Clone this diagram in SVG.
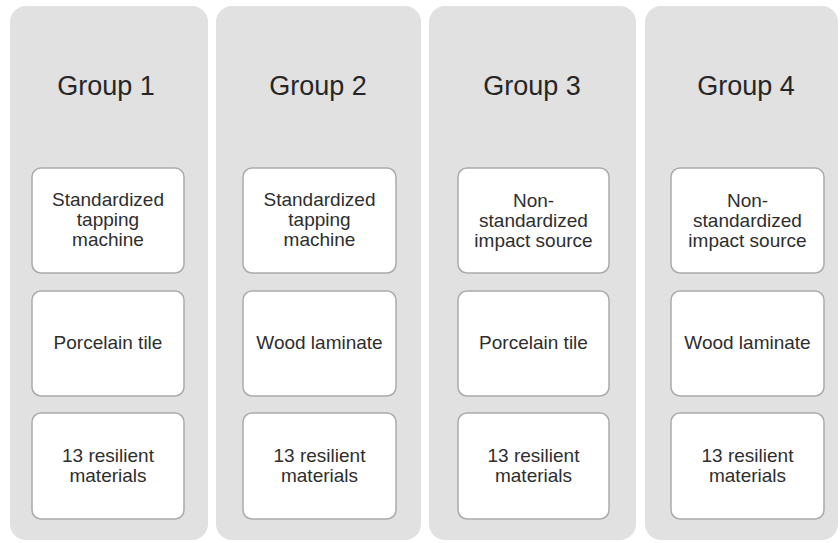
<svg xmlns="http://www.w3.org/2000/svg" width="840" height="543" viewBox="0 0 840 543">
<style>
.panel{fill:#e1e1e1;}
.box{fill:#ffffff;stroke:#ababab;stroke-width:1.5;}
.title{font-family:"Liberation Sans",Arial,sans-serif;font-size:27px;fill:#262626;text-anchor:middle;}
.lbl{font-family:"Liberation Sans",Arial,sans-serif;font-size:19px;fill:#2e2e2e;text-anchor:middle;}
</style>
<rect width="840" height="543" fill="#ffffff"/>
<g id="group1">
<rect class="panel" x="10" y="6" width="198" height="534" rx="16"/>
<text class="title" x="106" y="95">Group 1</text>
<g id="g1-source"><rect class="box" x="32" y="168" width="152" height="105" rx="9"/>
<text class="lbl" x="108" y="206">Standardized</text><text class="lbl" x="108" y="226">tapping</text><text class="lbl" x="108" y="246">machine</text></g>
<g id="g1-floor"><rect class="box" x="32" y="291" width="152" height="105" rx="9"/>
<text class="lbl" x="108" y="349">Porcelain tile</text></g>
<g id="g1-mat"><rect class="box" x="32" y="413" width="152" height="106" rx="9"/>
<text class="lbl" x="108" y="462">13 resilient</text><text class="lbl" x="108" y="482">materials</text></g>
</g>
<g id="group2">
<rect class="panel" x="216" y="6" width="205" height="534" rx="16"/>
<text class="title" x="318" y="95">Group 2</text>
<g id="g2-source"><rect class="box" x="243" y="168" width="153" height="105" rx="9"/>
<text class="lbl" x="319.5" y="206">Standardized</text><text class="lbl" x="319.5" y="226">tapping</text><text class="lbl" x="319.5" y="246">machine</text></g>
<g id="g2-floor"><rect class="box" x="243" y="291" width="153" height="105" rx="9"/>
<text class="lbl" x="319.5" y="349">Wood laminate</text></g>
<g id="g2-mat"><rect class="box" x="243" y="413" width="153" height="106" rx="9"/>
<text class="lbl" x="319.5" y="462">13 resilient</text><text class="lbl" x="319.5" y="482">materials</text></g>
</g>
<g id="group3">
<rect class="panel" x="429" y="6" width="207" height="534" rx="16"/>
<text class="title" x="532" y="95">Group 3</text>
<g id="g3-source"><rect class="box" x="458" y="168" width="151" height="105" rx="9"/>
<text class="lbl" x="533.5" y="207">Non-</text><text class="lbl" x="533.5" y="227">standardized</text><text class="lbl" x="533.5" y="247">impact source</text></g>
<g id="g3-floor"><rect class="box" x="458" y="291" width="151" height="105" rx="9"/>
<text class="lbl" x="533.5" y="349">Porcelain tile</text></g>
<g id="g3-mat"><rect class="box" x="458" y="413" width="151" height="106" rx="9"/>
<text class="lbl" x="533.5" y="462">13 resilient</text><text class="lbl" x="533.5" y="482">materials</text></g>
</g>
<g id="group4">
<rect class="panel" x="645" y="6" width="193" height="534" rx="16"/>
<text class="title" x="746" y="95">Group 4</text>
<g id="g4-source"><rect class="box" x="671" y="168" width="153" height="105" rx="9"/>
<text class="lbl" x="747.5" y="207">Non-</text><text class="lbl" x="747.5" y="227">standardized</text><text class="lbl" x="747.5" y="247">impact source</text></g>
<g id="g4-floor"><rect class="box" x="671" y="291" width="153" height="105" rx="9"/>
<text class="lbl" x="747.5" y="349">Wood laminate</text></g>
<g id="g4-mat"><rect class="box" x="671" y="413" width="153" height="106" rx="9"/>
<text class="lbl" x="747.5" y="462">13 resilient</text><text class="lbl" x="747.5" y="482">materials</text></g>
</g>
<g id="connectors"></g>
</svg>
